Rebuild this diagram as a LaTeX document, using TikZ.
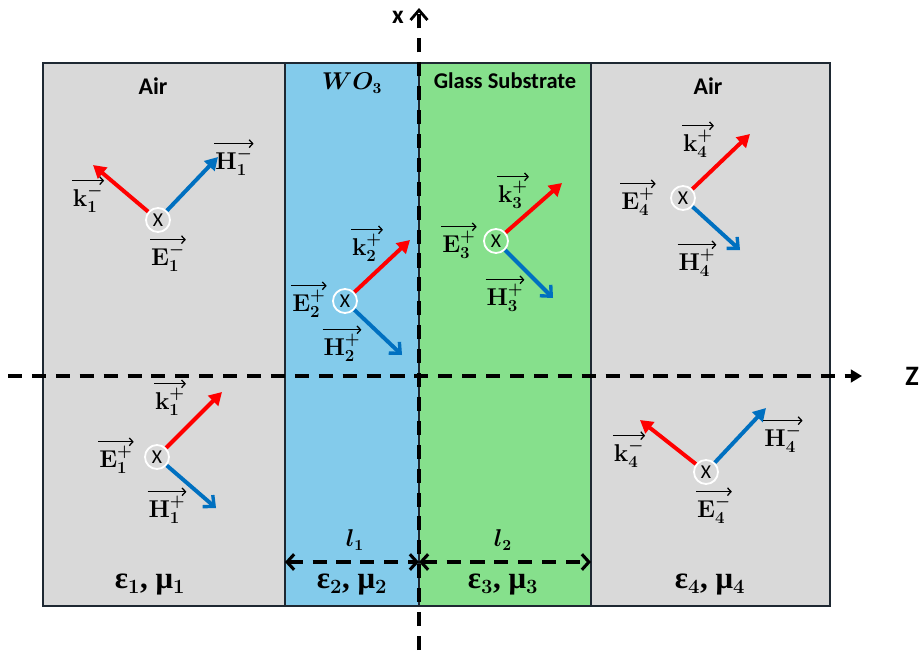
\documentclass[tikz,border=0pt]{standalone}
\usepackage{amsmath}
\usepackage{fontspec}
\setsansfont{Carlito}
\newfontfamily\greekserif{Liberation Serif}
\usetikzlibrary{arrows.meta}

\definecolor{airgrey}{RGB}{217,217,217}
\definecolor{wolayer}{RGB}{131,203,235}
\definecolor{glassgreen}{RGB}{134,224,140}
\definecolor{hblue}{RGB}{0,112,192}
\definecolor{edgecol}{RGB}{30,40,50}

\newcommand{\fieldvec}[3]{$\mathbf{#1}_{\mathbf{#2}}^{#3}$}
\newcommand{\matprop}[1]{ε$_{\mathbf{#1}}$, μ$_{\mathbf{#1}}$}

\begin{document}
\begin{tikzpicture}[x=0.025cm, y=-0.025cm,
    layeredge/.style={draw=edgecol, line width=1.1pt},
    axisline/.style={line width=2.5pt, dash pattern=on 10pt off 7pt},
    kvec/.style={red, line width=2.8pt, -{Triangle[length=9pt, width=10pt]}},
    hup/.style={hblue, line width=2.8pt, -{Triangle[length=9pt, width=10pt]}},
    hdown/.style={hblue, line width=2.8pt, -{Straight Barb[length=6pt, width=11pt, line width=2.4pt]}},
    ehole/.style={circle, draw=white, line width=1.3pt, minimum size=0.6cm, inner sep=0pt, font=\sffamily\fontsize{14}{16}\selectfont},
    vlabel/.style={inner sep=0.5pt, font=\fontsize{17}{19}\selectfont\boldmath,
        append after command={([yshift=2.5pt]\tikzlastnode.north west) edge[line width=0.9pt, -{Straight Barb[length=2.5pt, width=5.5pt]}] ([yshift=2.5pt]\tikzlastnode.north east)}},
    regtitle/.style={font=\sffamily\bfseries\fontsize{17}{19}\selectfont},
    matlabel/.style={font=\greekserif\bfseries\fontsize{22}{25}\selectfont\boldmath}]
    \useasboundingbox (0,0) rectangle (923,651);

    % Layers
    \fill[airgrey] (43,63) rectangle (285,606);
    \fill[wolayer] (285,63) rectangle (419,606);
    \fill[glassgreen] (419,63) rectangle (591,606);
    \fill[airgrey] (591,63) rectangle (830,606);
    \draw[layeredge] (43,63) rectangle (830,606);
    \draw[layeredge] (285,63) -- (285,606);
    \draw[layeredge] (419,63) -- (419,606);
    \draw[layeredge] (591,63) -- (591,606);

    \node[regtitle] (air1) at (153,86) {Air};
    \node[font=\fontsize{16}{18}\selectfont\boldmath] (wo) at (352,83) {$WO_3$};
    \node[regtitle, font=\sffamily\bfseries\fontsize{16}{18}\selectfont] (glass) at (505,81) {Glass Substrate};
    \node[regtitle] (air4) at (708,86) {Air};

    % Axes
    \coordinate (xbot) at (419,650);
    \coordinate (xtop) at (419,8);
    \coordinate (zleft) at (8,376);
    \coordinate (zright) at (862,376);
    \draw[axisline, -{Straight Barb[length=7pt, width=12pt, line width=2pt]}] (xbot) -- (xtop);
    \draw[axisline, -{Triangle[length=8pt, width=9pt]}] (zleft) -- (zright);
    \node[font=\sffamily\bfseries\fontsize{18}{20}\selectfont] (xlab) at (398,17) {x};
    \node[font=\sffamily\bfseries\fontsize{20}{22}\selectfont] (zlab) at (912,376) {Z};

    % Thicknesses
    \coordinate (d1) at (285,562);
    \coordinate (d2) at (419,562);
    \coordinate (d3) at (591,562);
    \draw[axisline, {Straight Barb[length=5pt, width=11pt, line width=2.2pt]}-{Straight Barb[length=5pt, width=11pt, line width=2.2pt]}] (d1) -- (d2);
    \draw[axisline, {Straight Barb[length=5pt, width=11pt, line width=2.2pt]}-{Straight Barb[length=5pt, width=11pt, line width=2.2pt]}] (d2) -- (d3);
    \node[font=\fontsize{16}{18}\selectfont\boldmath] (l1) at (355,540) {$l_1$};
    \node[font=\fontsize{16}{18}\selectfont\boldmath] (l2) at (503,540) {$l_2$};

    \node[matlabel] (m1) at (150,585) {\matprop{1}};
    \node[matlabel] (m2) at (352,585) {\matprop{2}};
    \node[matlabel] (m3) at (503,585) {\matprop{3}};
    \node[matlabel] (m4) at (710,585) {\matprop{4}};

    % Reflected wave in medium 1
    \node[ehole] (e1m) at (158,220) {X};
    \coordinate (k1mtip) at (93,165);
    \coordinate (h1mtip) at (218,157);
    \draw[kvec] (e1m) -- (k1mtip);
    \draw[hup] (e1m) -- (h1mtip);
    \node[vlabel] (k1m) at (88,199) {\fieldvec{k}{1}{-}};
    \node[vlabel] (h1m) at (234,162) {\fieldvec{H}{1}{-}};
    \node[vlabel] (e1mlab) at (168,258) {\fieldvec{E}{1}{-}};

    % Incident wave in medium 1
    \node[ehole] (e1p) at (157,457) {X};
    \coordinate (k1ptip) at (222,392);
    \coordinate (h1ptip) at (216,508);
    \draw[kvec] (e1p) -- (k1ptip);
    \draw[hdown] (e1p) -- (h1ptip);
    \node[vlabel] (k1p) at (170,402) {\fieldvec{k}{1}{+}};
    \node[vlabel] (e1plab) at (116,460) {\fieldvec{E}{1}{+}};
    \node[vlabel] (h1p) at (167,510) {\fieldvec{H}{1}{+}};

    % Wave in WO3
    \node[ehole] (e2p) at (345,301) {X};
    \coordinate (k2ptip) at (410,240);
    \coordinate (h2ptip) at (402,355);
    \draw[kvec] (e2p) -- (k2ptip);
    \draw[hdown] (e2p) -- (h2ptip);
    \node[vlabel] (k2p) at (367,248) {\fieldvec{k}{2}{+}};
    \node[vlabel] (e2plab) at (309,304) {\fieldvec{E}{2}{+}};
    \node[vlabel] (h2p) at (342,348) {\fieldvec{H}{2}{+}};

    % Wave in glass
    \node[ehole] (e3p) at (496,241) {X};
    \coordinate (k3ptip) at (562,183);
    \coordinate (h3ptip) at (553,298);
    \draw[kvec] (e3p) -- (k3ptip);
    \draw[hdown] (e3p) -- (h3ptip);
    \node[vlabel] (k3p) at (513,195) {\fieldvec{k}{3}{+}};
    \node[vlabel] (e3plab) at (459,245) {\fieldvec{E}{3}{+}};
    \node[vlabel] (h3p) at (505,298) {\fieldvec{H}{3}{+}};

    % Transmitted wave in medium 4
    \node[ehole] (e4p) at (683,198) {X};
    \coordinate (k4ptip) at (750,134);
    \coordinate (h4ptip) at (740,250);
    \draw[kvec] (e4p) -- (k4ptip);
    \draw[hdown] (e4p) -- (h4ptip);
    \node[vlabel] (k4p) at (698,144) {\fieldvec{k}{4}{+}};
    \node[vlabel] (e4plab) at (638,202) {\fieldvec{E}{4}{+}};
    \node[vlabel] (h4p) at (697,263) {\fieldvec{H}{4}{+}};

    % Backward wave in medium 4
    \node[ehole] (e4m) at (706,472) {X};
    \coordinate (k4mtip) at (640,420);
    \coordinate (h4mtip) at (766,408);
    \draw[kvec] (e4m) -- (k4mtip);
    \draw[hup] (e4m) -- (h4mtip);
    \node[vlabel] (k4m) at (629,454) {\fieldvec{k}{4}{-}};
    \node[vlabel] (h4m) at (783,439) {\fieldvec{H}{4}{-}};
    \node[vlabel] (e4mlab) at (714,510) {\fieldvec{E}{4}{-}};
\end{tikzpicture}
\end{document}
